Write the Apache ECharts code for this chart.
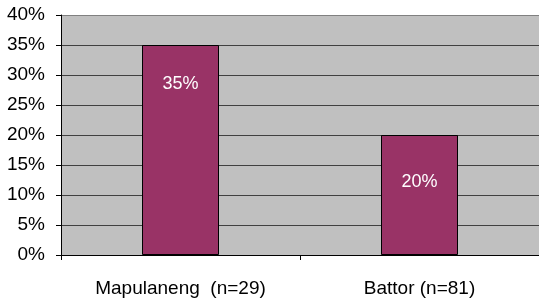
<!DOCTYPE html>
<html><head><meta charset="utf-8">
<script src="https://cdn.jsdelivr.net/npm/echarts@6/dist/echarts.min.js"></script>
<style>html,body{margin:0;padding:0;background:#fff}#c{width:539px;height:304px}</style>
</head><body><div id="c"></div>
<script>
const categories = ['Mapulaneng  (n=29)', 'Battor (n=81)'];
const values = [35, 20];
const yTicks = [0, 5, 10, 15, 20, 25, 30, 35, 40];

const chart = echarts.init(document.getElementById('c'), null, {renderer: 'canvas'});
const font = 'Liberation Sans, Arial, sans-serif';
const labelDist = [30, 38];
chart.setOption({
  animation: false,
  grid: {left: 61, right: -5, top: 15, bottom: 49, show: true, backgroundColor: '#C0C0C0', borderWidth: 0},
  xAxis: {
    type: 'category', data: categories,
    axisLine: {lineStyle: {color: '#000', width: 1}},
    axisTick: {show: true, length: 5, lineStyle: {color: '#000'}},
    axisLabel: {color: '#000', fontFamily: font, fontSize: 19, margin: 24}
  },
  yAxis: {
    type: 'value', min: yTicks[0], max: yTicks[yTicks.length - 1], interval: 5,
    axisLine: {show: true, lineStyle: {color: '#000', width: 1}},
    axisTick: {show: true, length: 5, lineStyle: {color: '#000'}},
    axisLabel: {color: '#000', fontFamily: font, fontSize: 19, margin: 16, formatter: v => v + '%'},
    splitLine: {show: true, lineStyle: {color: ['#404040','#404040','#404040','#404040','#404040','#404040','#404040','#404040','#808080'], width: 1}}
  },
  series: [{
    type: 'bar', barWidth: 77,
    itemStyle: {color: '#993366', borderColor: '#000', borderWidth: 1},
    data: values.map((v, i) => ({value: v, label: {distance: labelDist[i]}})),
    label: {show: true, position: 'insideTop', color: '#fff', fontFamily: font, fontSize: 18, formatter: p => p.value + '%'}
  }]
});
</script></body></html>
